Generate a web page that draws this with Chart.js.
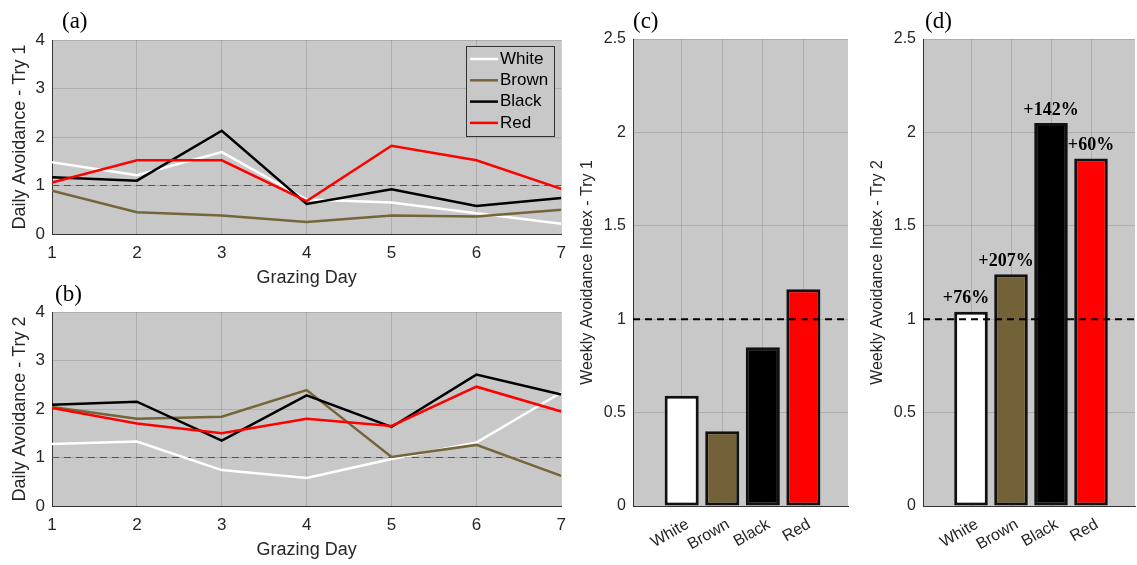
<!DOCTYPE html>
<html lang="en">
<head>
  <meta charset="UTF-8">
  <title>Daily and weekly avoidance</title>
  <style>
    body { margin: 0; background: #fff; width: 1137px; height: 565px; overflow: hidden; position: relative; }
    canvas { position: absolute; }
  </style>
  <script src="https://cdn.jsdelivr.net/npm/chart.js"></script>
</head>
<body>
  <canvas id="chA" style="left:0px;top:0px" width="575" height="290"></canvas>
  <canvas id="chB" style="left:0px;top:270px" width="575" height="295"></canvas>
  <canvas id="chC" style="left:565px;top:0px" width="285" height="565"></canvas>
  <canvas id="chD" style="left:850px;top:0px" width="287" height="565"></canvas>
  <script>
    // values
    const days = [1, 2, 3, 4, 5, 6, 7];
    const groups = ['White', 'Brown', 'Black', 'Red'];

    const try1White = [1.48, 1.21, 1.69, 0.71, 0.65, 0.43, 0.21];
    const try1Brown = [0.89, 0.45, 0.38, 0.25, 0.38, 0.36, 0.50];
    const try1Black = [1.17, 1.10, 2.13, 0.62, 0.92, 0.58, 0.74];
    const try1Red   = [1.06, 1.52, 1.52, 0.68, 1.82, 1.52, 0.93];

    const try2White = [1.28, 1.33, 0.74, 0.58, 0.97, 1.31, 2.34];
    const try2Brown = [2.04, 1.80, 1.84, 2.39, 1.01, 1.26, 0.62];
    const try2Black = [2.09, 2.15, 1.35, 2.28, 1.63, 2.71, 2.30];
    const try2Red   = [2.02, 1.70, 1.50, 1.80, 1.65, 2.46, 1.95];

    const weeklyTry1 = [0.59, 0.40, 0.85, 1.16];
    const weeklyTry2 = [1.04, 1.24, 2.05, 1.86];
    const changeTry2 = ['+76%', '+207%', '+142%', '+60%'];
    const refLevel = 1;

    const lineColours = ['#ffffff', '#75653b', '#000000', '#ff0000'];
    const barColours = ['#ffffff', '#736237', '#000000', '#ff0000'];

    Chart.defaults.font.family = "'Liberation Sans', Arial, sans-serif";
    Chart.defaults.color = '#262626';

    // gray axes background
    const panelBg = {
      id: 'panelBg',
      beforeDraw(chart) {
        const { ctx, chartArea: a } = chart;
        ctx.save();
        ctx.fillStyle = '#c8c8c8';
        ctx.fillRect(a.left, a.top, a.right - a.left, a.bottom - a.top);
        ctx.restore();
      }
    };

    // dashed line at the reference level
    function drawRef(chart, o) {
      const { ctx, chartArea: a } = chart;
      const y = chart.scales.y.getPixelForValue(o.value);
      ctx.save();
      ctx.strokeStyle = o.color;
      ctx.lineWidth = o.width;
      ctx.setLineDash(o.dash);
      ctx.beginPath();
      ctx.moveTo(a.left, y);
      ctx.lineTo(a.right, y);
      ctx.stroke();
      ctx.restore();
    }
    const refLine = {
      id: 'refLine',
      beforeDatasetsDraw(chart, args, o) { if (!o.onTop) drawRef(chart, o); },
      afterDatasetsDraw(chart, args, o) { if (o.onTop) drawRef(chart, o); }
    };

    // (a), (b) ... tags
    const panelTag = {
      id: 'panelTag',
      afterDraw(chart, args, o) {
        const ctx = chart.ctx;
        ctx.save();
        ctx.font = "23px 'Liberation Serif', 'Times New Roman', serif";
        ctx.fillStyle = '#000';
        ctx.textAlign = 'left';
        ctx.textBaseline = 'middle';
        ctx.fillText(o.text, o.x, o.y);
        ctx.restore();
      }
    };

    // boxed legend inside the axes
    const boxLegend = {
      id: 'boxLegend',
      afterDatasetsDraw(chart, args, o) {
        if (!o.show) return;
        const ctx = chart.ctx;
        ctx.save();
        ctx.fillStyle = '#c8c8c8';
        ctx.fillRect(o.x, o.y, o.w, o.h);
        ctx.strokeStyle = '#333';
        ctx.lineWidth = 1;
        ctx.strokeRect(o.x + 0.5, o.y + 0.5, o.w, o.h);
        ctx.font = "17px 'Liberation Sans', Arial, sans-serif";
        ctx.textBaseline = 'middle';
        chart.data.datasets.forEach((ds, i) => {
          const y = o.y + 13 + i * 21.3;
          ctx.strokeStyle = ds.borderColor;
          ctx.lineWidth = 2.5;
          ctx.beginPath();
          ctx.moveTo(o.x + 4, y);
          ctx.lineTo(o.x + 32, y);
          ctx.stroke();
          ctx.fillStyle = '#000';
          ctx.fillText(ds.label, o.x + 34, y);
        });
        ctx.restore();
      }
    };

    // percentage labels above bars
    const barNotes = {
      id: 'barNotes',
      afterDatasetsDraw(chart, args, o) {
        if (!o.labels) return;
        const ctx = chart.ctx;
        const meta = chart.getDatasetMeta(0);
        ctx.save();
        ctx.font = "bold 18px 'Liberation Serif', 'Times New Roman', serif";
        ctx.fillStyle = '#000';
        ctx.textAlign = 'center';
        ctx.textBaseline = 'bottom';
        meta.data.forEach((bar, i) => ctx.fillText(o.labels[i], bar.x - (i < 2 ? 5 : 0), bar.y - 4));
        ctx.restore();
      }
    };

    const gridCol = 'rgba(0,0,0,0.13)';
    const plainNum = v => String(v);

    function lineChart(id, series, yTitle, tag, xTitlePad, legend) {
      new Chart(document.getElementById(id), {
        type: 'line',
        data: {
          datasets: series.map((vals, i) => ({
            label: groups[i],
            data: vals.map((v, k) => ({ x: days[k], y: v })),
            borderColor: lineColours[i],
            borderWidth: 2.5,
            pointRadius: 0,
            tension: 0,
            order: series.length - i
          }))
        },
        options: {
          responsive: false,
          animation: false,
          layout: { padding: { top: id === 'chA' ? 40 : 42, right: 13, left: 0, bottom: 0 } },
          plugins: {
            legend: { display: false },
            tooltip: { enabled: false },
            refLine: { value: refLevel, color: '#555', width: 1, dash: [7, 5], onTop: false },
            panelTag: tag,
            boxLegend: legend
          },
          scales: {
            x: {
              type: 'linear', min: 1, max: 7,
              ticks: { stepSize: 1, padding: 9, font: { size: 17 }, callback: plainNum },
              grid: { color: gridCol, drawTicks: false },
              border: { color: '#333' },
              title: { display: true, text: 'Grazing Day', font: { size: 18 }, color: '#262626', padding: { top: 0, bottom: xTitlePad } },
              afterFit: s => { s.height = id === 'chA' ? 56 : 59; }
            },
            y: {
              min: 0, max: 4,
              ticks: { stepSize: 1, padding: 7, font: { size: 17 }, callback: plainNum },
              grid: { color: gridCol, drawTicks: false },
              border: { color: '#333' },
              title: { display: true, text: yTitle, font: { size: 18 }, color: '#262626', padding: { top: 9, bottom: 0 } },
              afterFit: s => { s.width = 52; }
            }
          }
        },
        plugins: [panelBg, refLine, panelTag, boxLegend]
      });
    }

    function barChart(id, values, yTitle, tag, axisW, titlePad, notes) {
      new Chart(document.getElementById(id), {
        type: 'bar',
        data: {
          datasets: [{
            label: yTitle,
            data: values.map((v, i) => ({ x: i + 1, y: v })),
            backgroundColor: barColours,
            borderColor: '#111',
            borderWidth: 3,
            borderSkipped: false,
            barPercentage: 0.84,
            categoryPercentage: 1
          }]
        },
        options: {
          responsive: false,
          animation: false,
          layout: { padding: { top: 39, right: 2, left: 0, bottom: 0 } },
          plugins: {
            legend: { display: false },
            tooltip: { enabled: false },
            refLine: { value: refLevel, color: '#000', width: 2, dash: [7, 5], onTop: true },
            panelTag: tag,
            barNotes: { labels: notes }
          },
          scales: {
            x: {
              type: 'linear', min: -0.2, max: 5.1, offset: false,
              afterBuildTicks: s => { s.ticks = groups.map((g, i) => ({ value: i + 1 })); },
              ticks: {
                autoSkip: false, minRotation: 30, maxRotation: 30, padding: 9, labelOffset: 6,
                font: { size: 16 },
                callback: v => groups[v - 1]
              },
              grid: { color: gridCol, drawTicks: false, offset: false },
              border: { color: '#333' },
              afterFit: s => { s.height = 59; }
            },
            y: {
              min: 0, max: 2.5,
              ticks: { stepSize: 0.5, padding: 7, font: { size: 16 }, callback: plainNum },
              grid: { color: gridCol, drawTicks: false },
              border: { color: '#333' },
              title: { display: true, text: yTitle, font: { size: 16 }, color: '#262626', padding: { top: titlePad, bottom: 0 } },
              afterFit: s => { s.width = axisW; }
            }
          }
        },
        plugins: [panelBg, refLine, panelTag, barNotes]
      });
    }

    lineChart('chA', [try1White, try1Brown, try1Black, try1Red], 'Daily Avoidance - Try 1',
      { text: '(a)', x: 62, y: 22 }, 1, { show: true, x: 466, y: 46, w: 88, h: 90 });
    lineChart('chB', [try2White, try2Brown, try2Black, try2Red], 'Daily Avoidance - Try 2',
      { text: '(b)', x: 55, y: 25 }, 4, { show: false });
    barChart('chC', weeklyTry1, 'Weekly Avoidance Index - Try 1', { text: '(c)', x: 68, y: 22 }, 68, 13, null);
    barChart('chD', weeklyTry2, 'Weekly Avoidance Index - Try 2', { text: '(d)', x: 75, y: 22 }, 73, 18, changeTry2);
  </script>
</body>
</html>
